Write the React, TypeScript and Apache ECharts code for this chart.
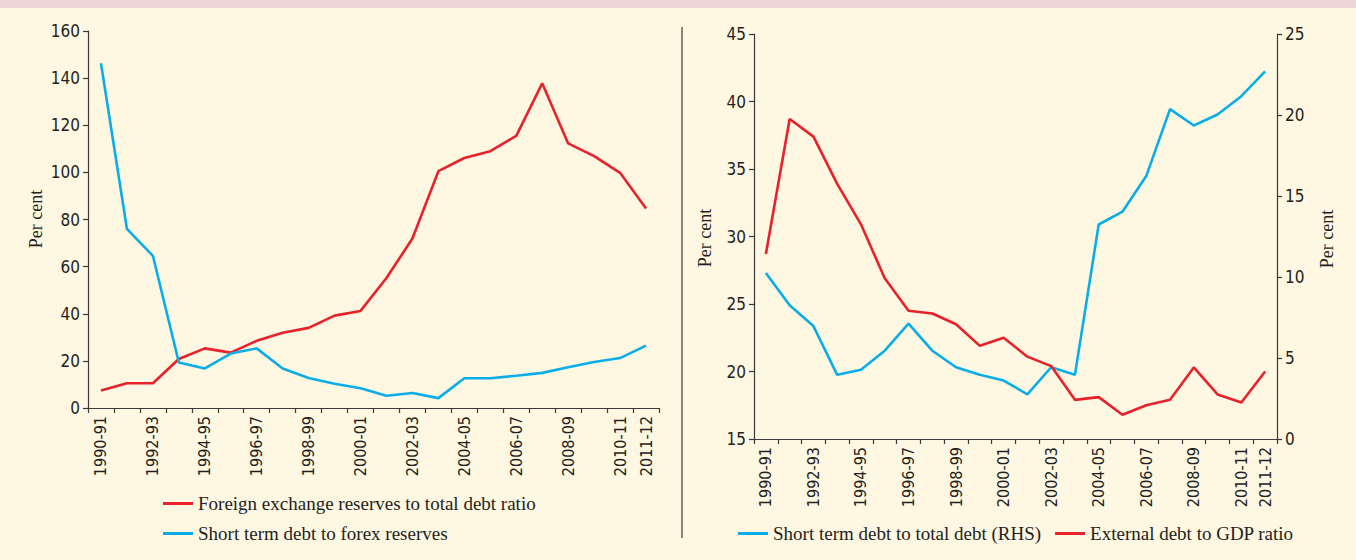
import React, { useEffect, useRef } from "react";
import * as echarts from "echarts";

const categories = [
  "1990-91", "1991-92", "1992-93", "1993-94", "1994-95", "1995-96", "1996-97", "1997-98",
  "1998-99", "1999-00", "2000-01", "2001-02", "2002-03", "2003-04", "2004-05", "2005-06",
  "2006-07", "2007-08", "2008-09", "2009-10", "2010-11", "2011-12",
];

const forexToTotalDebt = [
  7.4, 10.5, 10.5, 20.8, 25.3, 23.5, 28.5, 31.9, 34.0, 39.2, 41.2, 55.2, 71.9, 100.5,
  106.1, 109.0, 115.5, 137.8, 112.3, 106.9, 99.8, 84.7,
];

const shortTermToForex = [
  146.3, 76.0, 64.6, 19.3, 16.8, 23.1, 25.3, 16.8, 12.7, 10.3, 8.4, 5.2, 6.4, 4.2,
  12.6, 12.6, 13.7, 14.9, 17.3, 19.5, 21.2, 26.5,
];

const shortTermToTotal = [
  10.25, 8.25, 6.97, 3.96, 4.27, 5.45, 7.12, 5.45, 4.43, 3.96, 3.61, 2.76, 4.43, 3.96,
  13.24, 14.03, 16.23, 20.36, 19.35, 20.03, 21.16, 22.69,
];

const externalDebtToGdp = [
  28.7, 38.7, 37.4, 33.9, 30.9, 26.9, 24.5, 24.3, 23.5, 21.9, 22.5, 21.1, 20.4, 17.9,
  18.1, 16.8, 17.5, 17.9, 20.3, 18.3, 17.7, 20.0,
];

const leftTicks = { min: 0, max: 160, interval: 20 };
const rightLeftTicks = { min: 15, max: 45, interval: 5 };
const rightRightTicks = { min: 0, max: 25, interval: 5 };

const AXIS_TITLE = "Per cent";

const NAMES = {
  fx: "Foreign exchange reserves to total debt ratio",
  st: "Short term debt to forex reserves",
  stt: "Short term debt to total debt (RHS)",
  ext: "External debt to GDP ratio",
};

const RED = "#E8212B";
const BLUE = "#0AADE8";
const AXIS = "#3A3A3A";
const TEXT = "#231F20";
const NUM_FONT = "'Liberation Sans Narrow', 'DejaVu Sans Condensed', 'Roboto', sans-serif";
const SERIF = "'Liberation Serif', 'DejaVu Serif', serif";

export default function App() {
  const ref = useRef<HTMLDivElement>(null);

  useEffect(() => {
    if (!ref.current) return;
    const chart = echarts.init(ref.current, undefined, { renderer: "svg" });

    const catAxis = (gridIndex: number) => ({
      type: "category",
      gridIndex,
      data: categories,
      boundaryGap: true,
      axisLine: { lineStyle: { color: AXIS, width: 1.2 } },
      axisTick: { show: true, interval: 0, length: 5, lineStyle: { color: AXIS, width: 1.2 } },
      axisLabel: {
        interval: 0,
        formatter: (v: string, i: number) => (i % 2 === 0 || i === categories.length - 1 ? v : ""),
        rotate: 90,
        margin: 8,
        fontFamily: NUM_FONT,
        fontSize: 16,
        color: TEXT,
      },
      splitLine: { show: false },
    });

    const valAxis = (gridIndex: number, ticks: any, position: string) => ({
      type: "value",
      gridIndex,
      position,
      min: ticks.min,
      max: ticks.max,
      interval: ticks.interval,
      axisLine: { show: true, lineStyle: { color: AXIS, width: 1.2 } },
      axisTick: { show: true, length: 5, lineStyle: { color: AXIS, width: 1.2 } },
      axisLabel: { margin: 8, fontFamily: NUM_FONT, fontSize: 17, color: TEXT },
      splitLine: { show: false },
    });

    const lineSeries = (name: string, data: number[], color: string, xAxisIndex: number, yAxisIndex: number) => ({
      type: "line",
      name,
      data,
      xAxisIndex,
      yAxisIndex,
      symbol: "none",
      lineStyle: { color, width: 2.6 },
      itemStyle: { color },
    });

    const axisTitle = (x: number, y: number) => ({
      type: "text",
      x,
      y,
      rotation: Math.PI / 2,
      style: {
        text: AXIS_TITLE,
        fontFamily: SERIF,
        fontSize: 18,
        fill: TEXT,
        align: "center",
        verticalAlign: "middle",
      },
    });

    chart.setOption({
      animation: false,
      backgroundColor: "#FEF7E2",
      grid: [
        { left: 88, top: 31, width: 571, height: 377 },
        { left: 754, top: 34, width: 523, height: 405 },
      ],
      xAxis: [catAxis(0), catAxis(1)],
      yAxis: [
        valAxis(0, leftTicks, "left"),
        valAxis(1, rightLeftTicks, "left"),
        valAxis(1, rightRightTicks, "right"),
      ],
      legend: [
        {
          data: [NAMES.fx, NAMES.st],
          orient: "vertical",
          left: 158,
          top: 489,
          itemWidth: 30,
          itemHeight: 3,
          itemGap: 11,
          icon: "rect",
          textStyle: { fontFamily: SERIF, fontSize: 19, color: TEXT },
        },
        {
          data: [NAMES.stt, NAMES.ext],
          orient: "horizontal",
          left: 733,
          top: 519,
          itemWidth: 30,
          itemHeight: 3,
          itemGap: 14,
          icon: "rect",
          textStyle: { fontFamily: SERIF, fontSize: 19, color: TEXT },
        },
      ],
      graphic: [
        { type: "rect", shape: { x: 0, y: 0, width: 1356, height: 8 }, style: { fill: "#EFD4D7" } },
        { type: "line", shape: { x1: 682, y1: 27, x2: 682, y2: 538 }, style: { stroke: AXIS, lineWidth: 1.2 } },
        axisTitle(36, 219),
        axisTitle(705, 238),
        axisTitle(1327, 239),
      ],
      series: [
        lineSeries(NAMES.fx, forexToTotalDebt, RED, 0, 0),
        lineSeries(NAMES.st, shortTermToForex, BLUE, 0, 0),
        lineSeries(NAMES.stt, shortTermToTotal, BLUE, 1, 2),
        lineSeries(NAMES.ext, externalDebtToGdp, RED, 1, 1),
      ],
    });

    return () => chart.dispose();
  }, []);

  return (
    <div
      ref={ref}
      style={{ position: "fixed", left: 0, top: 0, width: 1356, height: 560 }}
    />
  );
}
